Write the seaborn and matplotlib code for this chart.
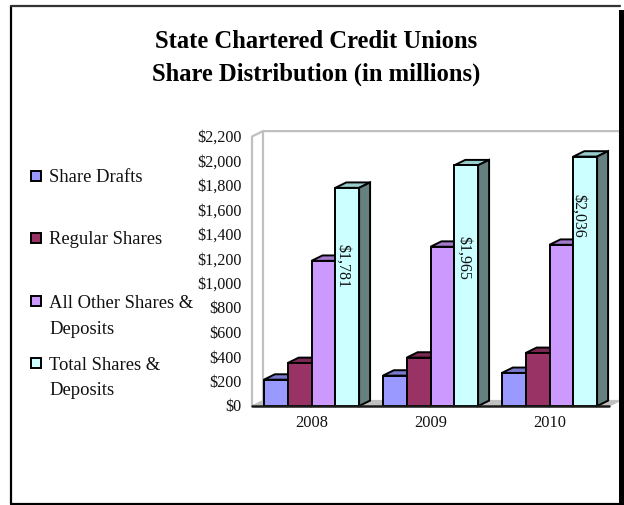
import numpy as np
import pandas as pd
import seaborn as sns
import matplotlib.pyplot as plt
from matplotlib.patches import Polygon, Rectangle
from matplotlib.transforms import ScaledTranslation

years = ['2008', '2009', '2010']
series = ['Share Drafts', 'Regular Shares', 'All Other Shares &\nDeposits', 'Total Shares &\nDeposits']
share_drafts = [215, 248, 270]
regular_shares = [351, 395, 433]
other_shares = [1185, 1300, 1316]
total_shares = [1781, 1965, 2036]
total_labels = ['$1,781', '$1,965', '$2,036']
yticks = [0, 200, 400, 600, 800, 1000, 1200, 1400, 1600, 1800, 2000, 2200]
colors = ['#9999ff', '#993366', '#cc99ff', '#ccffff']
side_colors = ['#5c5c99', '#5c1f3d', '#7a5c99', '#668080']
top_colors = ['#7a7acc', '#7a2952', '#a37acc', '#99cccc']

W, H = 624, 506
sns.set_theme(style='white')
plt.rcParams['font.family'] = ['Liberation Serif', 'DejaVu Serif']

df = pd.DataFrame({
    'year': np.repeat(years, 4),
    'series': series * 3,
    'value': np.ravel(np.column_stack([share_drafts, regular_shares, other_shares, total_shares])),
})

fig = plt.figure(figsize=(W / 100, H / 100), dpi=100, facecolor='white')
ax = fig.add_axes([252 / W, 1 - 407 / H, 357 / W, 269.5 / H])

sns.barplot(data=df, x='year', y='value', hue='series', hue_order=series, palette=colors,
            width=0.8, gap=0, saturation=1, edgecolor='black', linewidth=1.4,
            legend=False, zorder=5, ax=ax)
ax.set_xlim(-0.5, 2.5)
ax.set_ylim(0, 2200)
ax.set_yticks(yticks)
ax.set_yticklabels([f'${v:,}' for v in yticks], fontsize=11.6, color='#111111')
ax.tick_params(axis='y', length=0, pad=7.5)
# labels sit a bit above the front wall ticks in the original
nudge = ScaledTranslation(0, 1.5 / 100, fig.dpi_scale_trans)
for lab in ax.get_yticklabels():
    lab.set_transform(lab.get_transform() + nudge)
ax.tick_params(axis='x', length=0, pad=6, labelsize=11.8, labelcolor='#111111')
ax.set_xlabel('')
ax.set_ylabel('')
for s in ax.spines.values():
    s.set_visible(False)

# 3d depth, in data units
dx = 11 / 119
dy = 44
wall = '#c0c0c0'
ax.add_patch(Polygon([(-0.5, 0), (-0.5 + dx, dy), (2.5 + dx, dy), (2.5, 0)], closed=True,
                     facecolor=wall, edgecolor=wall, lw=1, clip_on=False, zorder=1))
ax.plot([-0.5, -0.5, -0.5 + dx, 2.5 + dx, 2.5 + dx], [0, 2200, 2200 + dy, 2200 + dy, dy],
        color=wall, lw=1.6, clip_on=False, zorder=1)
ax.plot([-0.5 + dx, -0.5 + dx], [dy, 2200 + dy], color=wall, lw=1.6, clip_on=False, zorder=1)
ax.plot([-0.5, 2.5], [0, 0], color='#1a1a1a', lw=1.8, clip_on=False, zorder=6)

# draw depth faces off the bars seaborn made
bars = [p for p in ax.patches if isinstance(p, Rectangle)]
for i, p in enumerate(bars):
    x0, w, h = p.get_x(), p.get_width(), p.get_height()
    k = i // 3
    p.set_zorder(5 + 0.1 * k)
    ax.add_patch(Polygon([(x0, h), (x0 + dx, h + dy), (x0 + w + dx, h + dy), (x0 + w, h)], closed=True,
                         facecolor=top_colors[k], edgecolor='black', lw=1.4, clip_on=False, zorder=4 + 0.1 * k))
    ax.add_patch(Polygon([(x0 + w, 0), (x0 + w + dx, dy), (x0 + w + dx, h + dy), (x0 + w, h)], closed=True,
                         facecolor=side_colors[k], edgecolor='black', lw=1.4, clip_on=False, zorder=4 + 0.1 * k))

# rotated labels on the total bars
label_x = [0.31, 0.38, 0.21]
label_y = [0.645, 0.62, 0.768]
for p, txt, fx, fy in zip(bars[9:], total_labels, label_x, label_y):
    ax.text(p.get_x() + p.get_width() * fx, p.get_height() * fy, txt, rotation=-90,
            ha='center', va='center', fontsize=11.5, color='#111111', zorder=8)

# title and legend in pixel coordinates of the page
def page(x, y):
    return x / W, 1 - y / H

fig.text(*page(316.5, 41.5), 'State Chartered Credit Unions', ha='center', va='center',
         fontsize=17.7, fontweight='bold', color='black')
fig.text(*page(316.5, 74.5), 'Share Distribution (in millions)', ha='center', va='center',
         fontsize=17.7, fontweight='bold', color='black')

legend_y = [177, 239, 302, 364]
for y, name, c in zip(legend_y, series, colors):
    x0, y0 = page(31, y + 5)
    fig.add_artist(Rectangle((x0, y0), 10 / W, 10 / H, transform=fig.transFigure,
                             facecolor=c, edgecolor='black', lw=1.4))
    for j, line in enumerate(name.split('\n')):
        fig.text(*page(49, y + 1 + j * 26), line, ha='left', va='center', fontsize=13.4, color='#111111')

# page frame, top is thin and the right side is a heavy stripe
x0, y0 = page(11, 505)
fig.add_artist(plt.Line2D([11 / W, 11 / W], [y0, 1 - 7 / H], color='black', lw=1.6))
fig.add_artist(plt.Line2D([11 / W, 620 / W], [y0, y0], color='black', lw=1.6))
fig.add_artist(plt.Line2D([11 / W, 620 / W], [1 - 7 / H, 1 - 7 / H], color='#333333', lw=1.6))
x1, y1 = page(619, 506)
fig.add_artist(Rectangle((x1, y1), 4.5 / W, (506 - 11) / H, transform=fig.transFigure,
                         facecolor='black', edgecolor='none'))

fig.savefig('out.png', dpi=100)
